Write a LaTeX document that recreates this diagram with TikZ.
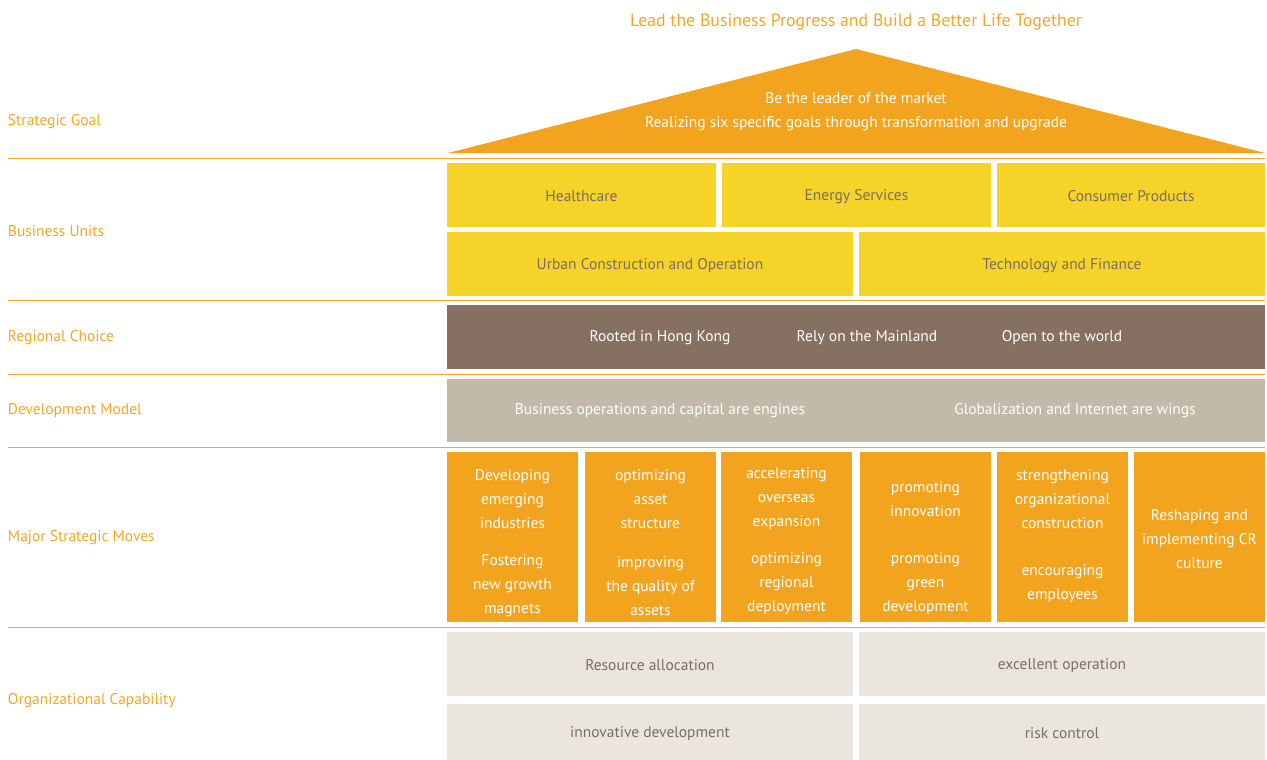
\documentclass[tikz,border=0pt]{standalone}
\usepackage{fontspec}
\setmainfont{PT Sans}
\definecolor{roof}{HTML}{F3A41E}
\definecolor{lbl}{HTML}{F5A623}
\definecolor{sep}{HTML}{F5A623}
\definecolor{unity}{HTML}{F5D328}
\definecolor{region}{HTML}{857061}
\definecolor{devm}{HTML}{C2B9A8}
\definecolor{capab}{HTML}{EAE5DF}
\definecolor{gtext}{HTML}{7B6E61}
\tikzset{
  base/.style={inner sep=0pt, outer sep=0pt, font=\fontsize{15.5}{24}\selectfont},
  box/.style={base, anchor=north west},
  unitbox/.style={box, fill=unity, text=gtext},
  regionbox/.style={box, fill=region},
  devbox/.style={box, fill=devm},
  movebox/.style={box, fill=roof},
  capbox/.style={box, fill=capab, text=gtext},
  wtext/.style={base, text=white, align=center},
  gtxt/.style={base, text=gtext, yshift=-1.5pt},
  rowlabel/.style={base, text=lbl, anchor=west},
  sepline/.style={draw=sep, line width=1pt},
}
\begin{document}
\begin{tikzpicture}[x=1pt,y=-1pt]
\useasboundingbox (0,0) rectangle (1267,760);
% title
\node[base, text=lbl, font=\fontsize{17.8}{20}\selectfont] (title) at (856,22) {Lead the Business Progress and Build a Better Life Together};
% roof
\fill[roof] (448,153) -- (856,49) -- (1265,153) -- cycle;
\node[wtext] (goal) at (856,112) {Be the leader of the market\\Realizing six specific goals through transformation and upgrade};
% separators
\foreach \yy in {158,300,374,447,627} \draw[sepline] (8,\yy) -- (1265,\yy);
% row labels
\node[rowlabel] (lgoal) at (8,122) {Strategic Goal};
\node[rowlabel] (lunits) at (8,231) {Business Units};
\node[rowlabel] (lregion) at (8,338) {Regional Choice};
\node[rowlabel] (ldev) at (8,411) {Development Model};
\node[rowlabel] (lmoves) at (8,538) {Major Strategic Moves};
\node[rowlabel] (lcap) at (8,701) {Organizational Capability};
% business units
\node[unitbox, minimum width=269pt, minimum height=64pt] (hc) at (447,163) {};
\node[gtxt] at (hc.center) {Healthcare};
\node[unitbox, minimum width=269pt, minimum height=64pt] (es) at (722,163) {};
\node[gtxt] at (es.center) {Energy Services};
\node[unitbox, minimum width=268pt, minimum height=64pt] (cp) at (997,163) {};
\node[gtxt] at (cp.center) {Consumer Products};
\node[unitbox, minimum width=406pt, minimum height=64pt] (uc) at (447,232) {};
\node[gtxt] at (uc.center) {Urban Construction and Operation};
\node[unitbox, minimum width=406pt, minimum height=64pt] (tf) at (859,232) {};
\node[gtxt] at (tf.center) {Technology and Finance};
% regional choice
\node[regionbox, minimum width=818pt, minimum height=64pt] (reg) at (447,305) {};
\node[wtext] (r1) at (660,338) {Rooted in Hong Kong};
\node[wtext] (r2) at (867,338) {Rely on the Mainland};
\node[wtext] (r3) at (1062,338) {Open to the world};
% development model
\node[devbox, minimum width=818pt, minimum height=63pt] (dev) at (447,379) {};
\node[wtext] (d1) at (660,411) {Business operations and capital are engines};
\node[wtext] (d2) at (1075,411) {Globalization and Internet are wings};
% moves
\node[movebox, minimum width=131pt, minimum height=170pt] (m1) at (447,452) {};
\node[movebox, minimum width=131pt, minimum height=170pt] (m2) at (585,452) {};
\node[movebox, minimum width=131pt, minimum height=170pt] (m3) at (721,452) {};
\node[movebox, minimum width=131pt, minimum height=170pt] (m4) at (860,452) {};
\node[movebox, minimum width=131pt, minimum height=170pt] (m5) at (997,452) {};
\node[movebox, minimum width=131pt, minimum height=170pt] (m6) at (1134,452) {};
\node[wtext] (m1a) at (m1.center |- 0,499) {Developing\\emerging\\industries};
\node[wtext] (m1b) at (m1.center |- 0,586) {Fostering\\new growth\\magnets};
\node[wtext] (m2a) at (m2.center |- 0,499) {optimizing\\asset\\structure};
\node[wtext] (m2b) at (m2.center |- 0,586) {improving\\the quality of\\assets};
\node[wtext] (m3a) at (m3.center |- 0,499) {accelerating\\overseas\\expansion};
\node[wtext] (m3b) at (m3.center |- 0,584) {optimizing\\regional\\deployment};
\node[wtext] (m4a) at (m4.center |- 0,499) {promoting\\innovation};
\node[wtext] (m4b) at (m4.center |- 0,584) {promoting\\green\\development};
\node[wtext] (m5a) at (m5.center |- 0,499) {strengthening\\organizational\\construction};
\node[wtext] (m5b) at (m5.center |- 0,584) {encouraging\\employees};
\node[wtext] (m6a) at (m6.center |- 0,539) {Reshaping and\\implementing CR\\culture};
% organizational capability
\node[capbox, minimum width=406pt, minimum height=64pt] (ra) at (447,632) {};
\node[gtxt] at (ra.center) {Resource allocation};
\node[capbox, minimum width=406pt, minimum height=64pt] (eo) at (859,632) {};
\node[gtxt] at (eo.center) {excellent operation};
\node[capbox, minimum width=406pt, minimum height=56pt] (id) at (447,704) {};
\node[gtxt] at ([yshift=0pt]id.center) {innovative development};
\node[capbox, minimum width=406pt, minimum height=56pt] (rc) at (859,704) {};
\node[gtxt] at (rc.center) {risk control};
\end{tikzpicture}
\end{document}
